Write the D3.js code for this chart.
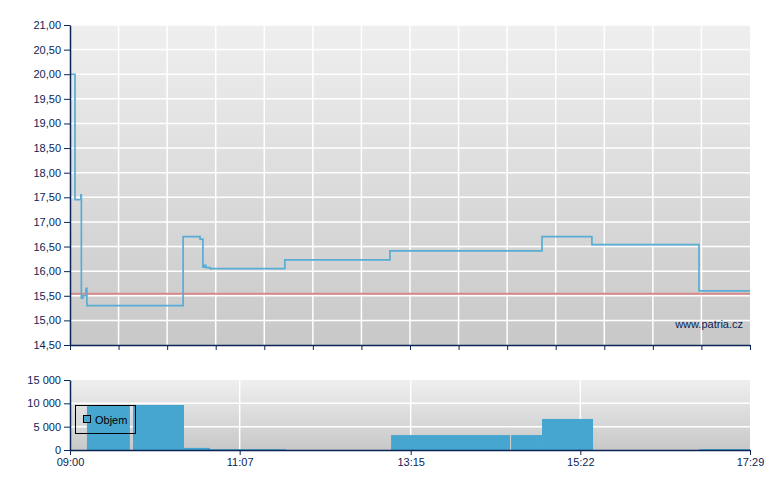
<!DOCTYPE html>
<html><head><meta charset="utf-8">
<script src="https://cdn.jsdelivr.net/npm/d3@7"></script>
<style>body{margin:0;background:#fff}svg{display:block}text{font-family:"Liberation Sans",Arial,sans-serif}</style>
</head><body>
<script>
const priceTimes = ["09:00:00","09:03:45","09:08:10","09:08:30","09:09:40","09:12:00","09:12:40","10:24:40","10:37:20","10:39:30","10:40:30","10:41:50","10:44:50","11:40:50","12:59:30","14:53:20","15:30:40","16:50:50","17:29:00"];
const priceValues = [20.00,17.45,17.55,15.45,15.50,15.65,15.30,16.70,16.65,16.08,16.12,16.07,16.05,16.23,16.41,16.70,16.54,15.60,15.60];
const refPrice = 15.54;
const volStart = ["09:12:40","09:47:10","10:25:20","10:44:50","13:00:20","14:30:10","14:53:20","16:50:50"];
const volEnd   = ["09:44:50","10:25:20","10:44:50","11:41:40","14:29:20","14:53:20","15:31:30","17:29:00"];
const volValues = [9600,9650,450,180,3200,3200,6650,200];
const priceTicks = [14.5,15,15.5,16,16.5,17,17.5,18,18.5,19,19.5,20,20.5,21];
const volTicks = [0,5000,10000,15000];
const timeLabels = ["09:00","11:07","13:15","15:22","17:29"];
const legendLabel = "Objem";
const watermark = "www.patria.cz";

const toMin = s => { const p = s.split(":").map(Number); return (p[0]-9)*60 + p[1] + (p[2]||0)/60; };
const W=780,H=490, L=70, R=750;
const navy="#0b2556";
const svg=d3.select("body").append("svg").attr("width",W).attr("height",H);
const defs=svg.append("defs");
const g1=defs.append("linearGradient").attr("id","bg").attr("x1",0).attr("y1",0).attr("x2",0).attr("y2",1);
g1.append("stop").attr("offset",0).attr("stop-color","#efefef");
g1.append("stop").attr("offset",1).attr("stop-color","#c8c8c8");

const x=d3.scaleLinear().domain([0,toMin("17:29")]).range([L,R]);
const fmt = v => d3.format(".2f")(v).replace(".",",");
const fmtV = v => d3.format(",")(v).replace(/,/g," ");

// top chart
const yT=25,yB=345;
const y=d3.scaleLinear().domain([14.5,21]).range([yB,yT]);
svg.append("rect").attr("x",L).attr("y",yT).attr("width",R-L).attr("height",yB-yT).attr("fill","url(#bg)");
const gridG=svg.append("g").attr("stroke","#fff").attr("stroke-width",1.5);
priceTicks.slice(1).forEach(t=>gridG.append("line").attr("x1",L).attr("x2",R).attr("y1",y(t)).attr("y2",y(t)));
const nV=14;
const vt=d3.range(0,nV+1).map(i=>x.domain()[1]*i/nV);
vt.slice(1,nV).forEach(t=>gridG.append("line").attr("x1",x(t)).attr("x2",x(t)).attr("y1",yT).attr("y2",yB));

svg.append("line").attr("x1",L).attr("x2",R).attr("y1",y(refPrice)).attr("y2",y(refPrice)).attr("stroke","#d88a8a").attr("stroke-width",2);

const pdata=priceTimes.map((t,i)=>({t:toMin(t),v:priceValues[i]}));
svg.append("path").datum(pdata).attr("fill","none").attr("stroke","#58add4").attr("stroke-width",1.7)
  .attr("d",d3.line().x(d=>x(d.t)).y(d=>y(d.v)).curve(d3.curveStepAfter));

svg.append("text").attr("x",743).attr("y",328).attr("text-anchor","end").attr("font-size",11).attr("fill",navy).text(watermark);

const ay=svg.append("g").attr("transform",`translate(${L},0)`).call(d3.axisLeft(y).tickValues(priceTicks).tickFormat(fmt).tickSize(6).tickSizeOuter(0));
const ax=svg.append("g").attr("transform",`translate(0,${yB})`).call(d3.axisBottom(x).tickValues(vt).tickFormat("").tickSize(5).tickSizeOuter(0));

// bottom chart
const bT=380,bB=450;
const yv=d3.scaleLinear().domain([0,15000]).range([bB,bT]);
svg.append("rect").attr("x",L).attr("y",bT).attr("width",R-L).attr("height",bB-bT).attr("fill","url(#bg)");
const g2=svg.append("g").attr("stroke","#fff").attr("stroke-width",1.5);
volTicks.slice(1,3).forEach(t=>g2.append("line").attr("x1",L).attr("x2",R).attr("y1",yv(t)).attr("y2",yv(t)));
timeLabels.slice(1,4).forEach(t=>g2.append("line").attr("x1",x(toMin(t))).attr("x2",x(toMin(t))).attr("y1",bT).attr("y2",bB));
svg.append("g").selectAll("rect").data(volValues).join("rect")
  .attr("x",(d,i)=>x(toMin(volStart[i]))).attr("width",(d,i)=>x(toMin(volEnd[i]))-x(toMin(volStart[i])))
  .attr("y",d=>yv(d)).attr("height",d=>bB-yv(d)).attr("fill","#46a6cf");

svg.append("g").attr("transform",`translate(${L},0)`).call(d3.axisLeft(yv).tickValues(volTicks).tickFormat(fmtV).tickSize(6).tickSizeOuter(0));
svg.append("g").attr("transform",`translate(0,${bB})`).call(d3.axisBottom(x).tickValues(timeLabels.map(toMin)).tickFormat((d,i)=>timeLabels[i]).tickSize(5).tickSizeOuter(0));

svg.selectAll(".tick text").attr("font-size",11).attr("fill",navy).attr("font-family","Liberation Sans, Arial, sans-serif");
svg.selectAll(".domain").attr("stroke",navy).attr("stroke-width",1.5);
svg.selectAll(".tick line").attr("stroke",navy);

// legend
const lg=svg.append("g");
lg.append("rect").attr("x",75.5).attr("y",405.5).attr("width",60).attr("height",28).attr("fill","none").attr("stroke","#000");
lg.append("rect").attr("x",83.5).attr("y",415.5).attr("width",7).attr("height",7).attr("fill","#46a6cf").attr("stroke","#000");
lg.append("text").attr("x",95).attr("y",424).attr("font-size",11).attr("fill","#000").text(legendLabel);
</script>
</body></html>
